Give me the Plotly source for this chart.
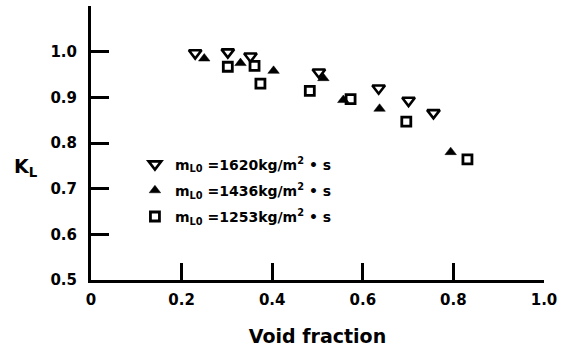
import plotly.graph_objects as go

# Data
x_1620 = [0.230, 0.302, 0.352, 0.503, 0.635, 0.701, 0.756]
y_1620 = [0.997, 0.999, 0.990, 0.955, 0.920, 0.893, 0.866]

x_1436 = [0.250, 0.330, 0.403, 0.513, 0.557, 0.637, 0.794]
y_1436 = [0.985, 0.975, 0.958, 0.942, 0.894, 0.875, 0.780]

x_1253 = [0.302, 0.361, 0.374, 0.483, 0.573, 0.696, 0.831]
y_1253 = [0.967, 0.969, 0.930, 0.914, 0.896, 0.847, 0.764]

names = ["m<sub>L0</sub> =1620kg/m<sup>2</sup> • s",
         "m<sub>L0</sub> =1436kg/m<sup>2</sup> • s",
         "m<sub>L0</sub> =1253kg/m<sup>2</sup> • s"]

x_ticks = [0, 0.2, 0.4, 0.6, 0.8, 1.0]
x_ticklabels = ["0", "0.2", "0.4", "0.6", "0.8", "1.0"]
y_ticks = [0.5, 0.6, 0.7, 0.8, 0.9, 1.0]
y_ticklabels = ["0.5", "0.6", "0.7", "0.8", "0.9", "1.0"]

FONT = "DejaVu Sans"

fig = go.Figure()
fig.add_trace(go.Scatter(x=x_1620, y=y_1620, mode="markers", name=names[0],
                         legendgroup="a",
                         marker=dict(symbol="triangle-down-open", size=11, color="black",
                                     line=dict(width=2.6, color="black"))))
fig.add_trace(go.Scatter(x=x_1436, y=y_1436, mode="markers", name=names[1],
                         legendgroup="b",
                         marker=dict(symbol="triangle-up", size=10, color="black",
                                     line=dict(width=0.5, color="black"))))
fig.add_trace(go.Scatter(x=x_1253, y=y_1253, mode="markers", name=names[2],
                         legendgroup="c",
                         marker=dict(symbol="square-open", size=9, color="black",
                                     line=dict(width=2.8, color="black"))))

fig.update_layout(
    width=570, height=352,
    margin=dict(l=91, r=26, t=6, b=72),
    paper_bgcolor="white", plot_bgcolor="white",
    font=dict(family=FONT, color="black", weight="bold"),
    showlegend=True,
    legend=dict(x=0.097, y=0.48, xanchor="left", yanchor="top",
                bgcolor="rgba(0,0,0,0)", borderwidth=0,
                font=dict(family=FONT, size=14, color="black", weight="bold"),
                tracegroupgap=5, itemwidth=30),
    xaxis=dict(range=[0, 1.0], tickmode="array", tickvals=x_ticks, ticktext=x_ticklabels,
               ticks="inside", ticklen=17, tickwidth=3, tickcolor="black",
               showline=True, linewidth=3, linecolor="black", showgrid=False, zeroline=False,
               tickfont=dict(family=FONT, size=15, color="black", weight="bold"),
               ticklabelstandoff=4,
               title=dict(text="Void fraction", standoff=22,
                          font=dict(family=FONT, size=19, color="black", weight="bold"))),
    yaxis=dict(range=[0.5, 1.1], tickmode="array", tickvals=y_ticks, ticktext=y_ticklabels,
               ticks="inside", ticklen=18, tickwidth=3, tickcolor="black",
               showline=True, linewidth=3, linecolor="black", showgrid=False, zeroline=False,
               tickfont=dict(family=FONT, size=15, color="black", weight="bold"),
               ticklabelstandoff=8),
    annotations=[dict(text="K<sub>L</sub>", xref="paper", yref="paper",
                      x=-0.143, y=0.41, xanchor="center", yanchor="middle", showarrow=False,
                      font=dict(family=FONT, size=19, color="black", weight="bold"))],
)

fig.write_html("out.html")
